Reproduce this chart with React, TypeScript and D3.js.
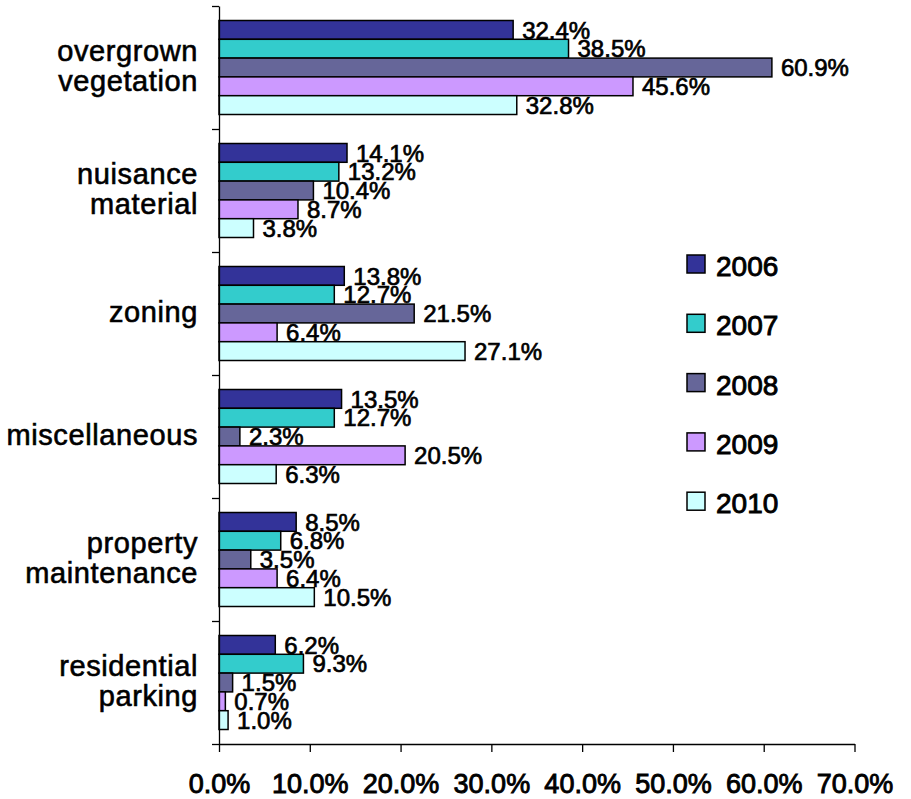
import React, { useEffect, useRef } from "react";
import * as d3 from "d3";

const categories = [
  ["overgrown", "vegetation"],
  ["nuisance", "material"],
  ["zoning"],
  ["miscellaneous"],
  ["property", "maintenance"],
  ["residential", "parking"],
];
const years = ["2006", "2007", "2008", "2009", "2010"];
const colors = ["#333399", "#33CCCC", "#666699", "#CC99FF", "#CCFFFF"];
const v2006 = [32.4, 14.1, 13.8, 13.5, 8.5, 6.2];
const v2007 = [38.5, 13.2, 12.7, 12.7, 6.8, 9.3];
const v2008 = [60.9, 10.4, 21.5, 2.3, 3.5, 1.5];
const v2009 = [45.6, 8.7, 6.4, 20.5, 6.4, 0.7];
const v2010 = [32.8, 3.8, 27.1, 6.3, 10.5, 1.0];
const series = [v2006, v2007, v2008, v2009, v2010];
const xTicks = [0, 10, 20, 30, 40, 50, 60, 70];

const FONT = "'Liberation Sans', Arial, sans-serif";

export default function App() {
  const ref = useRef<SVGSVGElement>(null);
  useEffect(() => {
    document.body.style.margin = "0";
    const svg = d3.select(ref.current);
    svg.selectAll("*").remove();
    const left = 219, right = 854.5, top = 6, bottom = 744;
    const x = d3.scaleLinear().domain([0, 70]).range([left, right]);
    const y = d3.scaleBand<number>().domain(d3.range(categories.length)).range([top, bottom]);
    const inner = d3.scaleBand<number>().domain(d3.range(years.length)).range([14.5, y.bandwidth() - 14.5]);

    // bars
    const g = svg.append("g");
    categories.forEach((_, ci) => {
      series.forEach((s, si) => {
        const y0 = (y(ci) as number) + (inner(si) as number);
        const h = inner.bandwidth();
        g.append("rect")
          .attr("x", x(0))
          .attr("y", y0)
          .attr("width", x(s[ci]) - x(0))
          .attr("height", h)
          .attr("fill", colors[si])
          .attr("stroke", "#000")
          .attr("stroke-width", 1.5);
      });
    });
    // value labels
    categories.forEach((_, ci) => {
      series.forEach((s, si) => {
        const y0 = (y(ci) as number) + (inner(si) as number);
        const h = inner.bandwidth();
        g.append("text")
          .attr("x", x(s[ci]) + 9)
          .attr("y", y0 + h / 2 + 8.6)
          .attr("font-family", FONT)
          .attr("font-size", 24)
          .attr("fill", "#000")
          .attr("stroke", "#000")
          .attr("stroke-width", 0.7)
          .text(s[ci].toFixed(1) + "%");
      });
    });

    // y axis
    const yEdge = d3.scaleLinear().domain([0, categories.length]).range([top, bottom]);
    const ya = svg.append("g").attr("transform", `translate(${left},0)`)
      .call(d3.axisLeft(yEdge).tickValues(d3.range(categories.length + 1)).tickFormat(() => "").tickSize(7).tickSizeOuter(0));
    ya.selectAll("path,line").attr("stroke", "#000").attr("stroke-width", 1.3);

    // x axis
    const xa = svg.append("g").attr("transform", `translate(0,${bottom})`)
      .call(d3.axisBottom(x).tickValues(xTicks).tickFormat((d) => (d as number).toFixed(1) + "%").tickSize(8).tickSizeOuter(0));
    xa.selectAll("path,line").attr("stroke", "#000").attr("stroke-width", 1.3);
    xa.selectAll("text")
      .attr("y", 48.5).attr("dy", null)
      .attr("font-family", FONT).attr("font-size", 27).attr("fill", "#000")
      .attr("stroke", "#000").attr("stroke-width", 0.9);

    // category labels
    categories.forEach((lines, ci) => {
      const cy = (y(ci) as number) + y.bandwidth() / 2;
      const lh = 30;
      lines.forEach((ln, li) => {
        const off = (li - (lines.length - 1) / 2) * lh;
        svg.append("text")
          .attr("x", 198)
          .attr("y", cy + off + 8)
          .attr("text-anchor", "end")
          .attr("font-family", FONT)
          .attr("font-size", 29)
          .attr("letter-spacing", 0.6)
          .attr("fill", "#000")
          .attr("stroke", "#000")
          .attr("stroke-width", 0.6)
          .text(ln);
      });
    });

    // legend
    years.forEach((yr, i) => {
      const ly = 255 + i * 59.3;
      svg.append("rect").attr("x", 687).attr("y", ly).attr("width", 18).attr("height", 18)
        .attr("fill", colors[i]).attr("stroke", "#000").attr("stroke-width", 1.5);
      svg.append("text").attr("x", 716).attr("y", ly + 21)
        .attr("font-family", FONT).attr("font-size", 28).attr("fill", "#000")
        .attr("stroke", "#000").attr("stroke-width", 0.9).text(yr);
    });
  }, []);
  return <svg ref={ref} width={911} height={799} style={{ display: "block", background: "#fff" }} />;
}
